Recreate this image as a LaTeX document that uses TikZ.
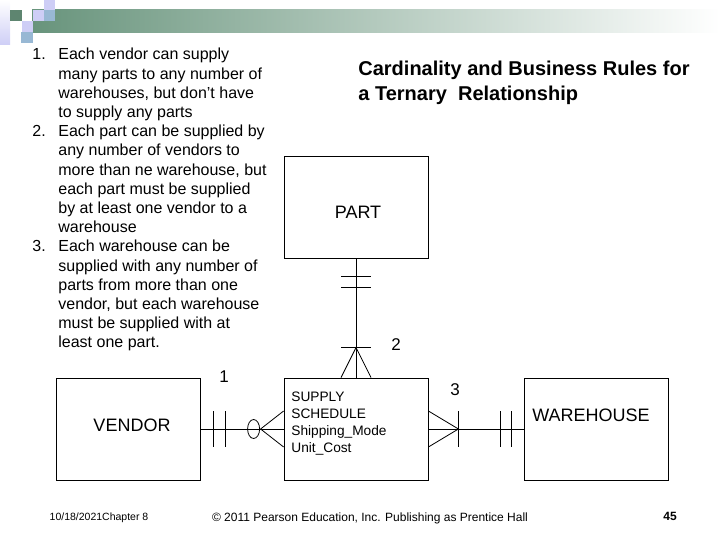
\documentclass[tikz,border=0pt]{standalone}
\usepackage{fontspec}
\setmainfont{Liberation Sans}
\usetikzlibrary{positioning,calc}
\definecolor{BarGreen}{RGB}{104,148,124}
\definecolor{Lavender}{RGB}{206,206,246}
\definecolor{GreyBlue}{RGB}{152,184,212}

\begin{document}
\begin{tikzpicture}[x=1pt, y=-1pt, line width=0.8pt,
  entity/.style={draw, minimum width=144pt, minimum height=102pt, inner sep=0pt},
  txt/.style={inner sep=0pt, font=\fontsize{16}{19.2}\selectfont},
  ename/.style={inner sep=0pt, font=\fontsize{18}{20}\selectfont},
  card/.style={inner sep=0pt, font=\fontsize{17}{19}\selectfont}]
  \useasboundingbox (0,0) rectangle (720,540);

  % Banner
  \shade[left color=BarGreen, right color=white] (32,10) rectangle (720,33);
  \shade[top color=white, bottom color=Lavender] (0,0) rectangle (10,45);
  \fill[BarGreen!90!black] (10,10) rectangle (22,21);
  \fill[Lavender] (22,21) rectangle (33,32);
  \fill[Lavender] (33,10) rectangle (44,21);
  \fill[Lavender] (44,0) rectangle (55,10);
  \fill[GreyBlue] (21,32) rectangle (33,43);
  \fill[GreyBlue] (44,10) rectangle (55,21);

  % Business rules
  \node[txt, anchor=north west] (rules) at (32,46) {%
    \begin{tabular}{@{}p{26pt}@{}l@{}}
    1. & Each vendor can supply\\
       & many parts to any number of\\
       & warehouses, but don't have\\
       & to supply any parts\\
    2. & Each part can be supplied by\\
       & any number of vendors to\\
       & more than ne warehouse, but\\
       & each part must be supplied\\
       & by at least one vendor to a\\
       & warehouse\\
    3. & Each warehouse can be\\
       & supplied with any number of\\
       & parts from more than one\\
       & vendor, but each warehouse\\
       & must be supplied with at\\
       & least one part.
    \end{tabular}};

  % Title
  \node[inner sep=0pt, anchor=north west, align=left,
        font=\fontsize{20}{25}\bfseries\selectfont] (title) at (358,61)
        {Cardinality and Business Rules for\\a Ternary\ \ Relationship};

  % Entities
  \node[entity] (part) at (356,207) {};
  \node[ename] (partname) at (358,212) {PART};
  \node[entity] (ss) at (356,429) {};
  \node[inner sep=0pt, anchor=north west, align=left,
        font=\fontsize{13.7}{17}\selectfont] (ssattr) at (291,392)
        {SUPPLY\\SCHEDULE\\Shipping\_Mode\\Unit\_Cost};
  \node[entity] (vendor) at (128.5,429) {};
  \node[ename] (vendorname) at (132,425) {VENDOR};
  \node[entity] (warehouse) at (596,429) {};
  \node[ename] (whname) at (591,415) {WAREHOUSE};

  % Relationship lines
  \draw (part.south) -- (ss.north);
  \draw (vendor.east) -- (ss.west);
  \draw (ss.east) -- (warehouse.west);

  % PART side
  \foreach \d in {18,29}
    \draw ($(part.south)+(-15,\d)$) -- ($(part.south)+(15,\d)$);
  \coordinate (pfoot) at ($(ss.north)+(0,-30)$);
  \draw ($(pfoot)+(-15,0)$) -- ($(pfoot)+(15,0)$);
  \draw ($(ss.north)+(-15,0)$) -- (pfoot) -- ($(ss.north)+(15,0)$);

  % VENDOR side
  \foreach \d in {12,24}
    \draw ($(vendor.east)+(\d,-18)$) -- ($(vendor.east)+(\d,18)$);
  \draw ($(ss.west)+(-30,0)$) ellipse [x radius=6pt, y radius=9.5pt];
  \draw ($(ss.west)+(0,-18)$) -- ($(ss.west)+(-23,0)$) -- ($(ss.west)+(0,18)$);

  % WAREHOUSE side
  \coordinate (wfoot) at ($(ss.east)+(30,0)$);
  \draw ($(ss.east)+(0,-18)$) -- (wfoot) -- ($(ss.east)+(0,18)$);
  \draw ($(wfoot)+(0,-18)$) -- ($(wfoot)+(0,18)$);
  \foreach \d in {12,23}
    \draw ($(warehouse.west)+(-\d,-18)$) -- ($(warehouse.west)+(-\d,18)$);

  % Cardinality numbers
  \node[card] (c1) at (224,377) {1};
  \node[card] (c2) at (396,345) {2};
  \node[card] (c3) at (455,390) {3};

  % Footer
  \node[inner sep=0pt, font=\fontsize{10.5}{13}\selectfont] (date) at (99,518) {10/18/2021Chapter 8};
  \node[inner sep=0pt, font=\fontsize{12}{14}\selectfont] (copy) at (370,518)
    {\textcopyright{} 2011 Pearson Education, Inc. Publishing as Prentice Hall};
  \node[inner sep=0pt, font=\fontsize{12}{14}\bfseries\selectfont] (page) at (670,516) {45};
\end{tikzpicture}
\end{document}
